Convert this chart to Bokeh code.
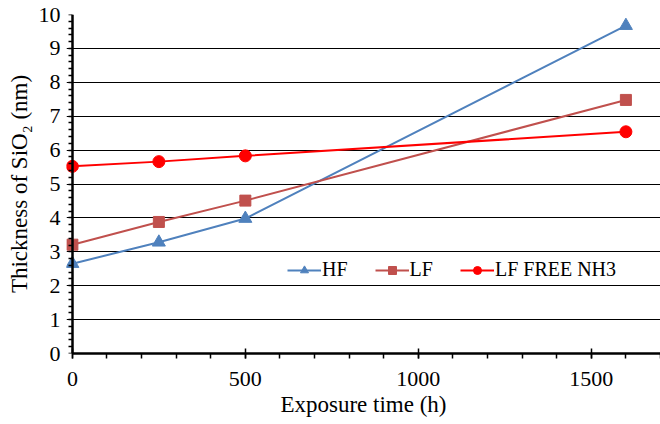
from bokeh.plotting import figure
from bokeh.models import Legend, LegendItem, Range1d, FixedTicker, LinearAxis
from bokeh.embed import file_html
from bokeh.resources import INLINE

hours = [0, 250, 500, 1600]
hf = [2.65, 3.28, 3.98, 9.67]
lf = [3.21, 3.88, 4.51, 7.48]
lf_free = [5.52, 5.66, 5.83, 6.54]
series_names = ["HF", "LF", "LF FREE NH3"]
x_ticks = [0, 500, 1000, 1500]
y_ticks = list(range(0, 11))

FONT = "Liberation Serif"

p = figure(width=660, height=420, output_backend="svg", toolbar_location=None,
           x_range=Range1d(-17, 1700), y_range=Range1d(0, 10),
           min_border_left=66, min_border_right=0, min_border_top=14, min_border_bottom=67)
p.outline_line_color = None
p.background_fill_color = "white"

p.xgrid.grid_line_color = None
p.ygrid.grid_line_color = "black"
p.ygrid.grid_line_width = 1.2
p.ygrid.ticker = FixedTicker(ticks=y_ticks)

r1 = p.line(hours, hf, color="#4F81BD", line_width=2)
s1 = p.scatter(hours, hf, marker="triangle", size=13, color="#4F81BD")
r2 = p.line(hours, lf, color="#C0504D", line_width=2)
s2 = p.scatter(hours, lf, marker="square", size=11, color="#C0504D")
r3 = p.line(hours, lf_free, color="#FF0000", line_width=2)
s3 = p.scatter(hours, lf_free, marker="circle", size=12, color="#FF0000")

legend = Legend(items=[LegendItem(label=series_names[0], renderers=[r1, s1]),
                       LegendItem(label=series_names[1], renderers=[r2, s2]),
                       LegendItem(label=series_names[2], renderers=[r3, s3])],
                orientation="horizontal", location=(221, 72))
legend.background_fill_alpha = 0
legend.border_line_color = None
legend.label_text_font = FONT
legend.label_text_font_size = "20px"
legend.label_text_color = "black"
legend.glyph_width = 34
legend.glyph_height = 20
legend.label_standoff = 1
legend.spacing = 27
legend.padding = 0
legend.margin = 0
p.add_layout(legend, "center")

# axis line drawn exactly at x = 0 (line and minor ticks only; major ticks come from the grid)
y_line_axis = LinearAxis(fixed_location=0)
p.add_layout(y_line_axis, "left")

for ax in (p.xaxis[0], p.yaxis[0], y_line_axis):
    ax.axis_line_color = "black"
    ax.axis_line_width = 2.5
    ax.major_tick_line_color = "black"
    ax.minor_tick_line_color = "black"
    ax.major_tick_line_width = 1.5
    ax.minor_tick_line_width = 1.5
    ax.major_label_text_font = FONT
    ax.major_label_text_font_size = "22px"
    ax.major_label_text_color = "black"
    ax.axis_label_text_font = FONT
    ax.axis_label_text_font_size = "23px"
    ax.axis_label_text_font_style = "normal"
    ax.axis_label_text_color = "black"

p.xaxis.ticker = FixedTicker(ticks=x_ticks, minor_ticks=list(range(0, 1701, 100)))
p.xaxis.bounds = (0, 1700)
p.xaxis.major_tick_in = 5
p.xaxis.major_tick_out = 5
p.xaxis.minor_tick_in = 0
p.xaxis.minor_tick_out = 5
p.xaxis.major_label_standoff = 13
p.xaxis.axis_label = "Exposure time (h)"
p.xaxis.axis_label_standoff = 3

# labelled y axis at frame edge (labels only)
ylab = p.left[0]
ylab.ticker = FixedTicker(ticks=y_ticks)
ylab.axis_line_color = None
ylab.major_tick_line_color = None
ylab.minor_tick_line_color = None
ylab.major_tick_in = 0
ylab.major_tick_out = 0
ylab.minor_tick_in = 0
ylab.minor_tick_out = 0
ylab.major_label_standoff = 6
ylab.axis_label = "Thickness of SiO₂ (nm)"
ylab.axis_label_standoff = 4

y_line_axis.ticker = FixedTicker(ticks=[], minor_ticks=[i / 5 for i in range(0, 51)])
y_line_axis.major_tick_in = 0
y_line_axis.major_tick_out = 0
y_line_axis.minor_tick_in = 0
y_line_axis.minor_tick_out = 4
y_line_axis.major_label_standoff = 0

open("out.html", "w").write(file_html(p, INLINE))
